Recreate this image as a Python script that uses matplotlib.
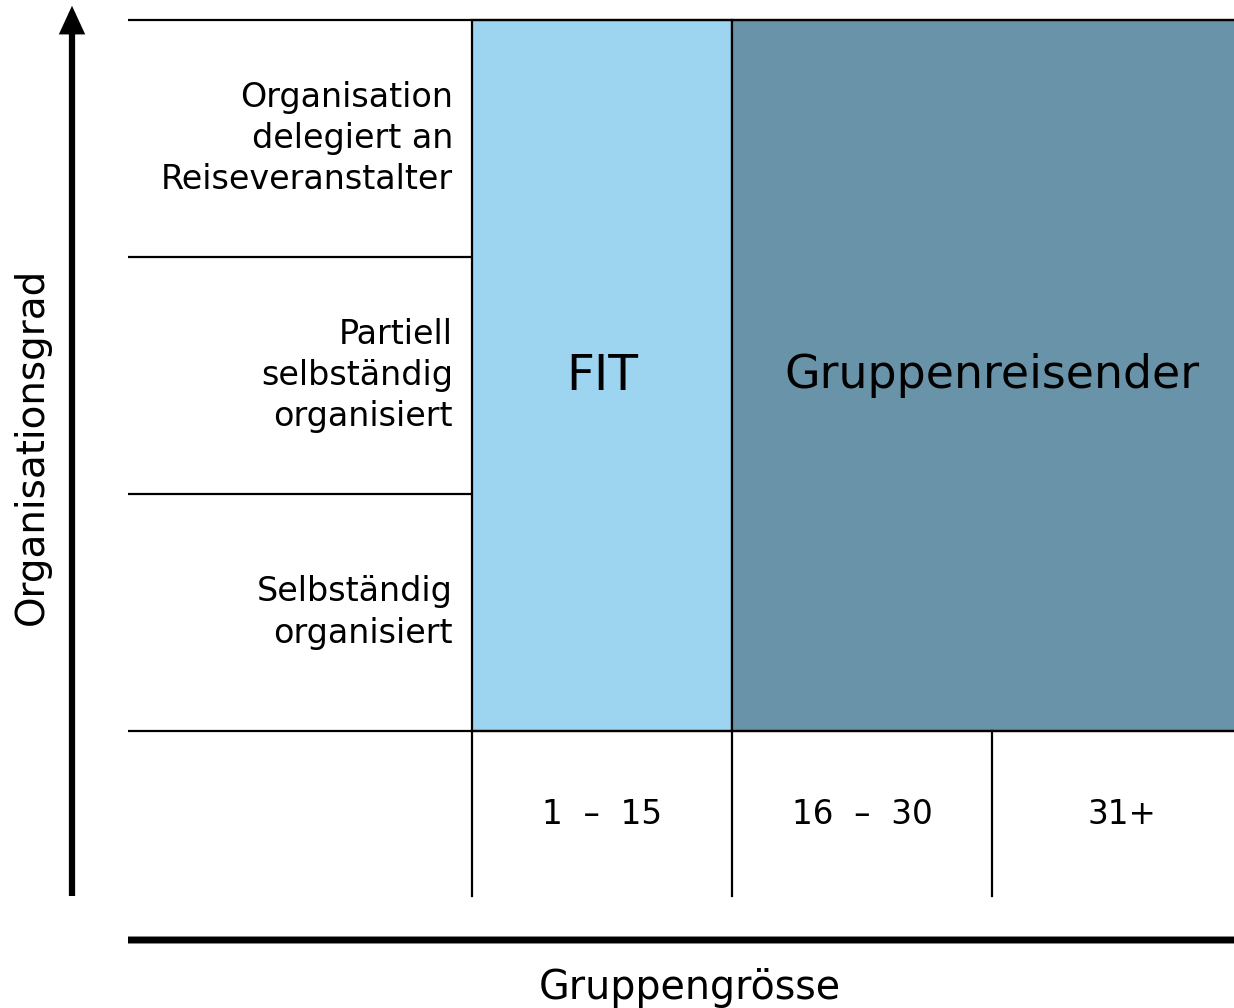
import matplotlib.pyplot as plt
from matplotlib.patches import Rectangle

# categories
row_labels = ['Selbständig\norganisiert',
              'Partiell\nselbständig\norganisiert',
              'Organisation\ndelegiert an\nReiseveranstalter']
size_labels = ['1 – 15', '16 – 30', '31+']
# travel type blocks: (name, first size column, number of columns)
type_names = ['FIT', 'Gruppenreisender']
type_start = [0, 1]
type_span = [1, 2]
type_colors = ['#9dd4f0', '#6993a8']
type_fontsize = [35, 33]

x_title = 'Gruppengrösse'
y_title = 'Organisationsgrad'

plt.rcParams['font.family'] = ['DejaVu Sans']

fig = plt.figure(figsize=(12.34, 10.08), dpi=100)
ax = fig.add_axes([0, 0, 1, 1])
# grid units: one size column = 260 px, one row = 237 px
ax.set_xlim(-472 / 260, (1234 - 472) / 260)
ax.set_ylim(-(1008 - 731) / 237, 731 / 237)
ax.axis('off')

n_rows = len(row_labels)
n_cols = len(size_labels)
label_left = -344 / 260
bottom = -165 / 237
right = n_cols + 0.1
lw = 1.6

# coloured blocks
for name, start, span, col, fs in zip(type_names, type_start, type_span,
                                      type_colors, type_fontsize):
    ax.add_patch(Rectangle((start, 0), span, n_rows, facecolor=col,
                           edgecolor='black', lw=lw, zorder=1))
    ax.text(start + span / 2, n_rows / 2, name, ha='center', va='center',
            fontsize=fs, zorder=3)

# horizontal row lines (only across the label column inside the grid)
for i in range(n_rows + 1):
    x_end = right if i in (0, n_rows) else 0
    ax.plot([label_left, x_end], [i, i], color='black', lw=lw, zorder=2,
            solid_capstyle='butt')

# vertical lines in size row
for j in range(n_cols):
    ax.plot([j, j], [bottom, 0], color='black', lw=lw, zorder=2)

# row labels
for i, lab in enumerate(row_labels):
    ax.text(-19 / 260, i + 0.5, lab, ha='right', va='center', fontsize=24,
            linespacing=1.32)

# size labels
for j, lab in enumerate(size_labels):
    ax.text(j + 0.5, -84 / 237, lab.replace(' – ', '  –  '), ha='center',
            va='center', fontsize=23.5)

# axis arrows
arrow_kw = dict(arrowstyle='-|>,head_length=1.3,head_width=0.6',
                color='black', shrinkA=0, shrinkB=0, capstyle='butt',
                joinstyle='miter')
ax.annotate('', xy=(-400 / 260, 3.06), xytext=(-400 / 260, bottom),
            annotation_clip=False, arrowprops=dict(lw=4.5, **arrow_kw))
ax.annotate('', xy=(n_cols + 0.15, -209 / 237), xytext=(label_left, -209 / 237),
            annotation_clip=False, arrowprops=dict(lw=5, **arrow_kw))

ax.text(-440 / 260, n_rows / 2 - 0.3, y_title, rotation=90, ha='center',
        va='center', fontsize=28)
ax.text(218 / 260, -257 / 237, x_title, ha='center', va='center', fontsize=28.5)

fig.savefig('out.png', dpi=100)
